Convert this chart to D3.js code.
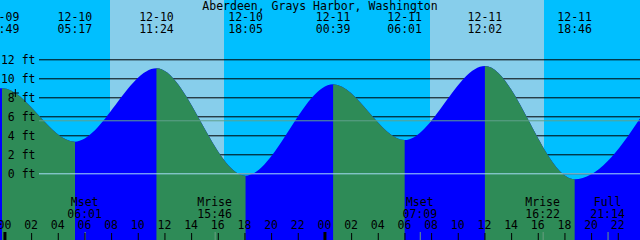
<!DOCTYPE html>
<html>
<head>
<meta charset="utf-8">
<script src="https://cdn.jsdelivr.net/npm/d3@7"></script>
<style>
html, body { margin: 0; padding: 0; overflow: hidden; background: #00bfff; }
text { font-family: "DejaVu Sans Mono", monospace; font-size: 11.5px; fill: #000; }
</style>
</head>
<body>
<div id="chart"></div>
<script>
const title = "Aberdeen, Grays Harbor, Washington"

// high / low tides (first and last entries fall outside the window)
const tideTimes = ["12-09 17:20", "12-09 23:49", "12-10 05:17", "12-10 11:24", "12-10 18:05",
                   "12-11 00:39", "12-11 06:01", "12-11 12:02", "12-11 18:46", "12-12 01:15"]
const tideLevels = [-0.2, 8.95, 3.33, 11.05, -0.25, 9.37, 3.5, 11.3, -0.63, 9.4]

// sun up intervals
const sunrises = ["12-10 07:55", "12-11 07:55"]
const sunsets = ["12-10 16:28", "12-11 16:28"]

// moon events shown along the bottom
const moonNames = ["Mset", "Mrise", "Mset", "Mrise", "Full"]
const moonTimes = ["12-10 06:01", "12-10 15:46", "12-11 07:09", "12-11 16:22", "12-11 21:14"]

const levelTicks = [0, 2, 4, 6, 8, 10, 12]
const meanSeaLevel = 5.58
const markTime = "12-10 00:49"
const markLevel = 8.45

const width = 640, height = 240
const parse = s => d3.utcParse("%Y-%m-%d %H:%M")("2023-" + s)
const fmtDate = d3.utcFormat("%m-%d")
const fmtTime = d3.utcFormat("%H:%M")

const x = d3.scaleUtc()
    .domain([parse("12-09 23:40"), parse("12-11 23:40")])
    .range([0, width])
const y = d3.scaleLinear().domain([0, 12]).range([173.3, 59.3])

const tides = tideTimes.map((t, i) => ({ t: parse(t), level: tideLevels[i] }))

const svg = d3.select("#chart").append("svg")
    .attr("width", width)
    .attr("height", height)
    .style("display", "block")

// night background then daylight bands
svg.append("rect").attr("width", width).attr("height", height).attr("fill", "#00bfff")
svg.append("g").selectAll("rect")
    .data(sunrises.map((s, i) => [parse(s), parse(sunsets[i])]))
    .join("rect")
    .attr("x", d => x(d[0]))
    .attr("width", d => x(d[1]) - x(d[0]))
    .attr("y", 0)
    .attr("height", height)
    .attr("fill", "#87ceeb")

// level grid lines, behind the water
svg.append("g").selectAll("line")
    .data(levelTicks)
    .join("line")
    .attr("x1", 39).attr("x2", width)
    .attr("y1", d => y(d) + 0.5).attr("y2", d => y(d) + 0.5)
    .attr("stroke", "#000")

const area = d3.area()
    .x(d => x(d.t))
    .y0(height)
    .y1(d => y(d.level))
    .curve(d3.curveMonotoneX)

// whole curve in flood colour, then ebb segments on top
svg.append("path").datum(tides).attr("d", area).attr("fill", "#0000ff")

const defs = svg.append("defs")
tides.slice(0, -1).forEach((d, i) => {
    const next = tides[i + 1]
    if (next.level > d.level) return
    defs.append("clipPath").attr("id", "ebb" + i)
        .append("rect")
        .attr("x", x(d.t)).attr("width", x(next.t) - x(d.t))
        .attr("y", 0).attr("height", height)
    svg.append("path").datum(tides)
        .attr("d", area)
        .attr("fill", "#2e8b57")
        .attr("clip-path", `url(#ebb${i})`)
})

// mean sea level and datum lines over the water
svg.append("line")
    .attr("x1", 39).attr("x2", width)
    .attr("y1", y(meanSeaLevel) + 0.5).attr("y2", y(meanSeaLevel) + 0.5)
    .attr("stroke", "#5fa08c")
svg.append("line")
    .attr("x1", 39).attr("x2", width)
    .attr("y1", y(0) + 0.5).attr("y2", y(0) + 0.5)
    .attr("stroke", "#a6dcf6")

// level labels
svg.append("g").selectAll("text")
    .data(levelTicks)
    .join("text")
    .attr("x", 35.5)
    .attr("y", d => y(d) + 4.5)
    .attr("text-anchor", "end")
    .text(d => `${d} ft`)

// current time mark
const mx = x(parse(markTime)), my = y(markLevel)
svg.append("path")
    .attr("d", `M${mx - 3.5},${my}H${mx + 3.5}M${mx},${my - 4}V${my + 4}`)
    .attr("stroke", "#000")

// title and tide times
svg.append("text").attr("x", width / 2).attr("y", 10)
    .attr("text-anchor", "middle").text(title)

const tideLabels = svg.append("g").selectAll("g")
    .data(tides.filter(d => d.t >= x.domain()[0] - 3600e3 && d.t <= x.domain()[1]))
    .join("g")
    .attr("transform", d => `translate(${x(d.t)},0)`)
tideLabels.append("text").attr("y", 21).attr("text-anchor", "middle").text(d => fmtDate(d.t).replace("/", "-"))
tideLabels.append("text").attr("y", 33).attr("text-anchor", "middle").text(d => fmtTime(d.t))

// moon events
const moon = moonTimes.map((t, i) => ({ t: parse(t), name: moonNames[i] }))
const moonG = svg.append("g").selectAll("g")
    .data(moon)
    .join("g")
    .attr("transform", d => `translate(${x(d.t)},0)`)
moonG.append("text").attr("y", 206).attr("text-anchor", "middle").text(d => d.name)
moonG.append("text").attr("y", 217.5).attr("text-anchor", "middle").text(d => fmtTime(d.t))
moonG.append("line")
    .attr("x1", 0.5).attr("x2", 0.5)
    .attr("y1", 232).attr("y2", height)
    .attr("stroke", "#6a9f80")

// hour axis
const hours = d3.utcHour.every(2).range(x.domain()[0], x.domain()[1])
const hourG = svg.append("g").selectAll("g")
    .data(hours)
    .join("g")
    .attr("transform", d => `translate(${x(d)},0)`)
hourG.append("text").attr("y", 229).attr("text-anchor", "middle").text(d3.utcFormat("%H"))
hourG.append("line")
    .attr("x1", 0.5).attr("x2", 0.5)
    .attr("y1", d => d.getUTCHours() === 0 ? 232 : 233)
    .attr("y2", height)
    .attr("stroke", "#000")
    .attr("stroke-width", d => d.getUTCHours() === 0 ? 3 : 1)
</script>
</body>
</html>
